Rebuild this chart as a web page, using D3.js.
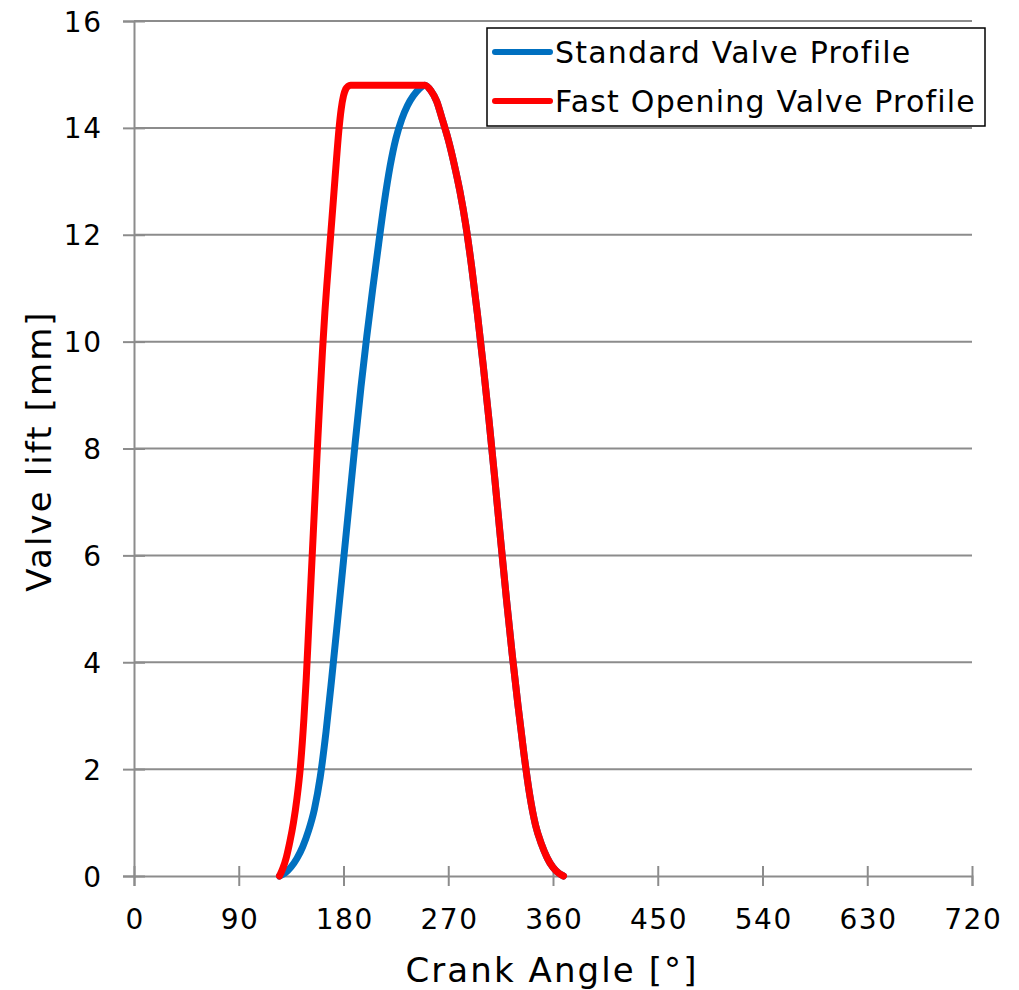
<!DOCTYPE html>
<html>
<head>
<meta charset="utf-8">
<script src="https://cdn.jsdelivr.net/npm/d3@7"></script>
<style>
  html, body { margin: 0; padding: 0; background: #fff; }
  svg { display: block; font-family: "DejaVu Sans", Verdana, sans-serif; }
</style>
</head>
<body>
<svg id="chart" width="1019" height="990"></svg>
<script>
// ---- data (crank angle in degrees, valve lift in mm) ----
const standardAngle = [125,130,135,140,145,150,155,160,165,170,175,180,185,190,195,200,205,210,215,220,225,230,235,240,245,250,
  255,260,265,270,275,280,285,290,295,300,305,310,315,320,325,330,335,340,345,350,355,360,365,369];
const standardLift  = [0,0.06,0.17,0.33,0.55,0.85,1.25,1.85,2.7,3.72,4.8,5.9,7.0,8.1,9.15,10.1,10.97,11.8,12.6,13.28,13.8,14.16,14.42,14.6,14.73,14.8,
  14.7,14.5,14.15,13.78,13.33,12.815,12.19,11.415,10.53,9.565,8.53,7.43,6.29,5.18,4.14,3.18,2.29,1.515,0.95,0.6,0.34,0.16,0.05,0];

const fastAngle = [125,128,131,134,137,140,143,146,148,150,152,154,156,158,160,162,164,166,168,170,172,174,176,178,180,182,184,186,248.6,250,
  255,260,265,270,275,280,285,290,295,300,305,310,315,320,325,330,335,340,345,350,355,360,365,369];
const fastLift  = [0,0.15,0.36,0.65,1.0,1.45,2.05,2.95,3.7,4.6,5.5,6.4,7.3,8.2,9.05,9.85,10.55,11.15,11.72,12.28,12.85,13.42,13.95,14.35,14.6,14.73,14.78,14.8,14.8,14.8,
  14.7,14.5,14.15,13.78,13.33,12.815,12.19,11.415,10.53,9.565,8.53,7.43,6.29,5.18,4.14,3.18,2.29,1.515,0.95,0.6,0.34,0.16,0.05,0];

const xTicks = [0,90,180,270,360,450,540,630,720];
const yTicks = [0,2,4,6,8,10,12,14,16];
const seriesNames = ["Standard Valve Profile", "Fast Opening Valve Profile"];
const seriesColors = ["#0070C0", "#FF0000"];

// ---- layout ----
const svg = d3.select("#chart");
const plotL = 134, plotR = 972, plotT = 21, plotB = 876;
const x = d3.scaleLinear().domain([0, 720]).range([plotL, plotR]);
const y = d3.scaleLinear().domain([0, 16]).range([plotB, plotT]);
const gridColor = "#8c8c8c";
const fontFam = "DejaVu Sans, Verdana, sans-serif";

// horizontal gridlines
svg.append("g").selectAll("line").data(yTicks.filter(d => d > 0)).join("line")
  .attr("x1", plotL).attr("x2", plotR)
  .attr("y1", d => y(d)).attr("y2", d => y(d))
  .attr("stroke", gridColor).attr("stroke-width", 2);

// y axis
const yAxis = svg.append("g").attr("transform", `translate(${plotL},0)`)
  .call(d3.axisLeft(y).tickValues(yTicks).tickSize(11).tickPadding(20.5).tickFormat(d3.format("d")));
yAxis.select(".domain").attr("stroke", gridColor).attr("stroke-width", 2);
yAxis.selectAll(".tick line").attr("stroke", gridColor).attr("stroke-width", 2).attr("x2", -11).attr("x1", 11);
yAxis.selectAll(".tick text").attr("font-size", 28).attr("fill", "#000").attr("letter-spacing", 1.5)
  .attr("font-family", fontFam).attr("dy", "0.36em");

// x axis
const xAxis = svg.append("g").attr("transform", `translate(0,${plotB})`)
  .call(d3.axisBottom(x).tickValues(xTicks).tickSize(10).tickPadding(23).tickFormat(d3.format("d")));
xAxis.select(".domain").attr("stroke", gridColor).attr("stroke-width", 2);
xAxis.selectAll(".tick line").attr("stroke", gridColor).attr("stroke-width", 2).attr("y1", -10).attr("y2", 10);
xAxis.selectAll(".tick text").attr("font-size", 28).attr("fill", "#000").attr("letter-spacing", 1.5)
  .attr("font-family", fontFam).attr("dx", 0.75);

// axis titles
svg.append("text").attr("x", 552).attr("y", 982).attr("text-anchor", "middle")
  .attr("font-size", 34).attr("letter-spacing", 2.1).attr("fill", "#000").text("Crank Angle [°]");
svg.append("text").attr("transform", "translate(51,451) rotate(-90)").attr("text-anchor", "middle")
  .attr("font-size", 34).attr("letter-spacing", 2.1).attr("fill", "#000").text("Valve lift [mm]");

// curves
const line = d3.line().x(d => x(d[0])).y(d => y(d[1])).curve(d3.curveMonotoneX);
const series = [
  d3.zip(standardAngle, standardLift),
  d3.zip(fastAngle, fastLift)
];
series.forEach((s, i) => {
  svg.append("path").datum(s).attr("d", line)
    .attr("fill", "none").attr("stroke", seriesColors[i]).attr("stroke-width", 7)
    .attr("stroke-linecap", "round").attr("stroke-linejoin", "round");
});

// legend
const lg = svg.append("g");
lg.append("rect").attr("x", 487).attr("y", 28).attr("width", 498).attr("height", 98)
  .attr("fill", "#fff").attr("stroke", "#000").attr("stroke-width", 1.5);
const ly = [52, 101];
seriesNames.forEach((name, i) => {
  lg.append("line").attr("x1", 495).attr("x2", 550).attr("y1", ly[i]).attr("y2", ly[i])
    .attr("stroke", seriesColors[i]).attr("stroke-width", 6).attr("stroke-linecap", "round");
  lg.append("text").attr("x", 555).attr("y", ly[i]).attr("dy", "0.36em")
    .attr("font-size", 30).attr("letter-spacing", 1.2).attr("fill", "#000").text(name);
});
</script>
</body>
</html>
